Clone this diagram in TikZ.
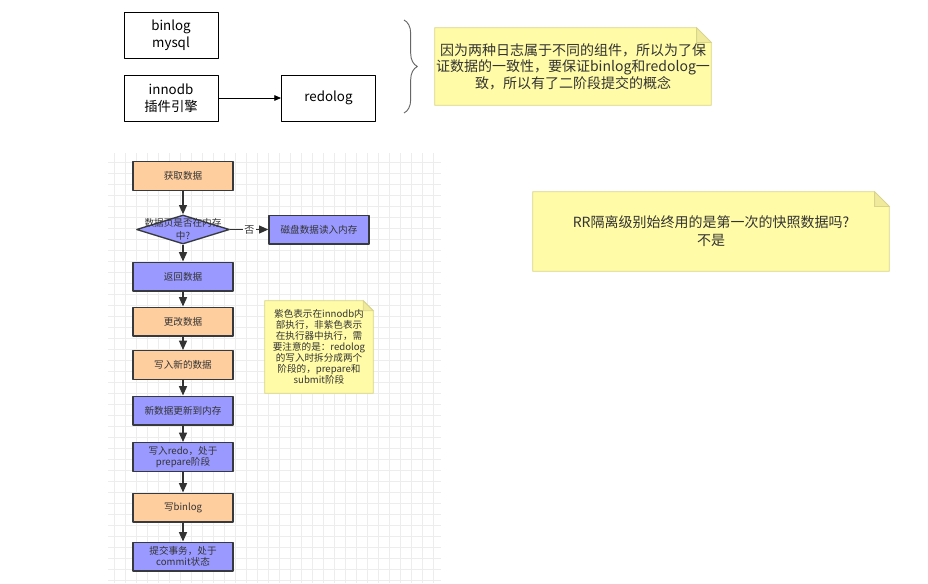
\documentclass[tikz,border=0pt]{standalone}
\usepackage{fontspec}
\setmainfont{Noto Sans CJK SC}
\usetikzlibrary{shapes.geometric,arrows.meta,decorations.pathreplacing,backgrounds}

\definecolor{orangefill}{HTML}{FFCE9F}
\definecolor{purplefill}{HTML}{9999FF}
\definecolor{boxline}{HTML}{36393D}
\definecolor{textgray}{HTML}{333333}
\definecolor{notefill}{HTML}{FFFBA6}
\definecolor{noteline}{HTML}{D8D48C}
\definecolor{notefold}{HTML}{EFEA9C}

% paper of a note, with its folded corner
\newcommand{\notebg}[2]{%
  \begin{scope}[on background layer]
    \filldraw[fill=notefill,draw=noteline,line width=0.6pt] (#1.south west) -- (#1.south east) -- ([yshift=-#2]#1.north east) -- ([xshift=-#2]#1.north east) -- (#1.north west) -- cycle;
    \filldraw[fill=notefold,draw=noteline,line width=0.6pt] ([xshift=-#2]#1.north east) -- ([xshift=-#2,yshift=-#2]#1.north east) -- ([yshift=-#2]#1.north east) -- cycle;
  \end{scope}}

\begin{document}
\begin{tikzpicture}[x=0.75pt, y=-0.75pt, line join=round,
  topbox/.style={draw=black, line width=0.75pt, fill=white, inner sep=0pt, align=center,
    minimum width=70.5pt, minimum height=34.5pt, font=\fontsize{10}{12.75}\selectfont},
  flowbox/.style={draw=boxline, line width=1pt, inner sep=0pt, align=center, text=textgray,
    minimum width=75pt, minimum height=21.5pt, font=\fontsize{7.2}{8.6}\selectfont},
  orangebox/.style={flowbox, fill=orangefill},
  purplebox/.style={flowbox, fill=purplefill},
  notetext/.style={inner sep=0pt, align=center, text=textgray},
  flowarrow/.style={draw=textgray, line width=1pt, -{Triangle[length=7pt,width=6pt]}},
  toparrow/.style={draw=black, line width=0.6pt, -{Triangle[length=5pt,width=4.2pt]}},
  gridline/.style={draw=gray!14, line width=0.5pt}]
  \useasboundingbox (0,0) rectangle (928,583);

  % grid behind the flow chart
  \begin{scope}[on background layer]
    \fill[white] (108,153) rectangle (441,583);
    \foreach \gx in {114,125,...,438} \draw[gridline] (\gx,153) -- (\gx,583);
    \foreach \gy in {162,173,...,580} \draw[gridline] (108,\gy) -- (441,\gy);
  \end{scope}

  % top: the two logs
  \node[topbox] (bin) at (171,35.5) {binlog\\mysql};
  \node[topbox] (inno) at (171,98) {innodb\\插件引擎};
  \node[topbox] (redo) at (328.5,98) {redolog};
  \draw[toparrow] (inno) -- (redo);

  % brace
  \coordinate (braceTop) at (404,20);
  \coordinate (braceBot) at (404,113);
  \draw[gray!80!black, line width=0.7pt, decorate, decoration={brace, amplitude=10pt}] (braceTop) -- (braceBot);

  % notes
  \node[notetext, minimum width=207pt, minimum height=57.75pt, font=\fontsize{10.5}{12.4}\selectfont] (note1) at (573,66.5)
    {因为两种日志属于不同的组件，所以为了保\\证数据的一致性，要保证binlog和redolog一\\致，所以有了二阶段提交的概念};
  \notebg{note1}{11pt}
  \node[notetext, minimum width=267pt, minimum height=59.25pt, font=\fontsize{10.5}{13.5}\selectfont] (note3) at (711,231.5)
    {RR隔离级别始终用的是第一次的快照数据吗?\\不是};
  \notebg{note3}{11pt}
  \node[notetext, minimum width=81pt, minimum height=69pt, font=\fontsize{7.2}{8.3}\selectfont] (note2) at (319,347)
    {紫色表示在innodb内\\部执行，非紫色表示\\在执行器中执行，需\\要注意的是：redolog\\的写入时拆分成两个\\阶段的，prepare和\\submit阶段};
  \notebg{note2}{7.5pt}

  % flow chart
  \node[orangebox] (get) at (183,176) {获取数据};
  \node[shape=diamond, draw=boxline, line width=1pt, fill=purplefill, inner sep=0pt,
    minimum width=69.75pt, minimum height=21.75pt] (inmem) at (183,229.5) {};
  \node[text=textgray, align=center, inner sep=0pt, font=\fontsize{7.2}{9.5}\selectfont] (inmemtext) at (inmem) {数据页是否在内存\\中?};
  \node[purplebox] (disk) at (319,229.5) {磁盘数据读入内存};
  \node[purplebox] (ret) at (183,276.5) {返回数据};
  \node[orangebox] (change) at (183,321.5) {更改数据};
  \node[orangebox] (newdata) at (183,365) {写入新的数据};
  \node[purplebox] (mem) at (183,410.5) {新数据更新到内存};
  \node[purplebox] (prep) at (183,457) {写入redo，处于\\prepare阶段};
  \node[orangebox] (wbin) at (183,507.5) {写binlog};
  \node[purplebox] (commit) at (183,556.5) {提交事务，处于\\commit状态};

  \draw[flowarrow] (get) -- (inmem);
  \draw[flowarrow] (inmem) -- node[fill=white, inner sep=1pt, text=textgray, font=\fontsize{7.5}{9}\selectfont] {否} (disk);
  \draw[flowarrow] (inmem) -- (ret);
  \draw[flowarrow] (ret) -- (change);
  \draw[flowarrow] (change) -- (newdata);
  \draw[flowarrow] (newdata) -- (mem);
  \draw[flowarrow] (mem) -- (prep);
  \draw[flowarrow] (prep) -- (wbin);
  \draw[flowarrow] (wbin) -- (commit);
\end{tikzpicture}
\end{document}
